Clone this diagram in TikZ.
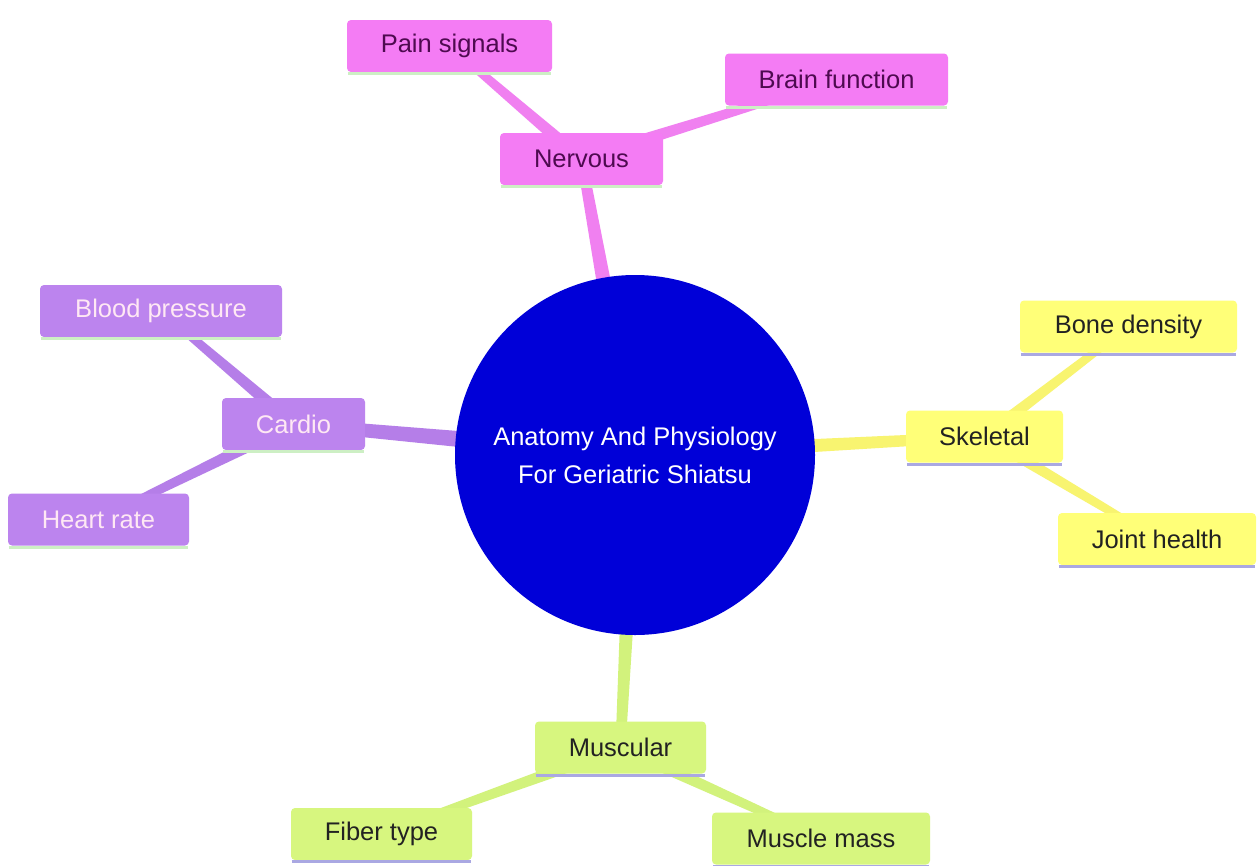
\documentclass[tikz,border=0pt]{standalone}
\usepackage{fontspec}
\setmainfont{Liberation Sans}
\usetikzlibrary{calc}
\pgfdeclarelayer{bg}
\pgfdeclarelayer{paper}
\pgfsetlayers{paper,bg,main}
\definecolor{cblue}{HTML}{0000D8}
\definecolor{pinkF}{HTML}{F47CF4}
\definecolor{pinkL}{HTML}{F080F0}
\definecolor{pinkT}{HTML}{4E0A50}
\definecolor{yelF}{HTML}{FFFF78}
\definecolor{yelL}{HTML}{F8F470}
\definecolor{purF}{HTML}{BC84EE}
\definecolor{purL}{HTML}{B57EE8}
\definecolor{purT}{HTML}{FFE8F4}
\definecolor{grnF}{HTML}{D7F67F}
\definecolor{grnL}{HTML}{D2F27C}
\definecolor{darkT}{HTML}{222222}
\definecolor{ulGreen}{HTML}{CDEFC4}
\definecolor{ulBlue}{HTML}{AAA8E2}
\newcommand{\taper}[5]{%
  \fill[#5] ($(#1)!#3!90:(#2)$) -- ($(#2)!#4!-90:(#1)$) -- ($(#2)!#4!90:(#1)$) -- ($(#1)!#3!-90:(#2)$) -- cycle;}
\newcommand{\uline}[2]{%
  \draw[line width=3pt,#2] ([yshift=-1.5pt,xshift=1pt]#1.south west) -- ([yshift=-1.5pt,xshift=-1pt]#1.south east);}
\begin{document}
\begin{tikzpicture}[x=1pt,y=-1pt,
  box/.style={rounded corners=4pt, minimum height=52pt, inner sep=0pt,
    font=\fontsize{25.5}{30}\selectfont},
  pinkbox/.style={box, fill=pinkF, text=pinkT},
  yelbox/.style={box, fill=yelF, text=darkT},
  purbox/.style={box, fill=purF, text=purT},
  grnbox/.style={box, fill=grnF, text=darkT}]
\begin{pgfonlayer}{paper}
\fill[white] (0,0) rectangle (1260,865);
\end{pgfonlayer}
\useasboundingbox (0,0) rectangle (1260,865);

\node[circle, fill=cblue, minimum size=360pt, inner sep=0pt, text=white,
  align=center, font=\fontsize{25.5}{38}\selectfont] (c) at (635,455)
  {Anatomy And Physiology\\For Geriatric Shiatsu};

\node[pinkbox, minimum width=163pt] (nerv) at (581.5,159) {Nervous};
\node[pinkbox, minimum width=205pt] (pain) at (449.5,46) {Pain signals};
\node[pinkbox, minimum width=223pt] (brain) at (836.5,79.5) {Brain function};

\node[yelbox, minimum width=157pt] (skel) at (984.5,436.5) {Skeletal};
\node[yelbox, minimum width=217pt] (bone) at (1128.5,326.5) {Bone density};
\node[yelbox, minimum width=198pt] (joint) at (1157,539) {Joint health};

\node[purbox, minimum width=143pt] (card) at (293.5,424) {Cardio};
\node[purbox, minimum width=242pt] (blood) at (161,311) {Blood pressure};
\node[purbox, minimum width=181pt] (heart) at (98.5,519.5) {Heart rate};

\node[grnbox, minimum width=171pt] (musc) at (620.5,747.5) {Muscular};
\node[grnbox, minimum width=181pt] (fiber) at (381.5,834) {Fiber type};
\node[grnbox, minimum width=218pt] (mass) at (821,838.5) {Muscle mass};

\begin{pgfonlayer}{bg}
  \taper{c}{nerv}{10pt}{5pt}{pinkL}
  \taper{nerv}{pain}{6.5pt}{3.5pt}{pinkL}
  \taper{nerv}{brain}{6.5pt}{3.5pt}{pinkL}
  \taper{c}{skel}{8pt}{5pt}{yelL}
  \taper{skel}{bone}{6pt}{3.5pt}{yelL}
  \taper{skel}{joint}{6pt}{3.5pt}{yelL}
  \taper{c}{card}{10pt}{6pt}{purL}
  \taper{card}{blood}{6.5pt}{3.5pt}{purL}
  \taper{card}{heart}{6.5pt}{3.5pt}{purL}
  \taper{c}{musc}{9pt}{5pt}{grnL}
  \taper{musc}{fiber}{6.5pt}{3.5pt}{grnL}
  \taper{musc}{mass}{6.5pt}{3.5pt}{grnL}
\end{pgfonlayer}

\uline{nerv}{ulGreen}
\uline{pain}{ulGreen}
\uline{brain}{ulGreen}
\uline{card}{ulGreen}
\uline{blood}{ulGreen}
\uline{heart}{ulGreen}
\uline{skel}{ulBlue}
\uline{bone}{ulBlue}
\uline{joint}{ulBlue}
\uline{musc}{ulBlue}
\uline{fiber}{ulBlue}
\uline{mass}{ulBlue}
\end{tikzpicture}
\end{document}
